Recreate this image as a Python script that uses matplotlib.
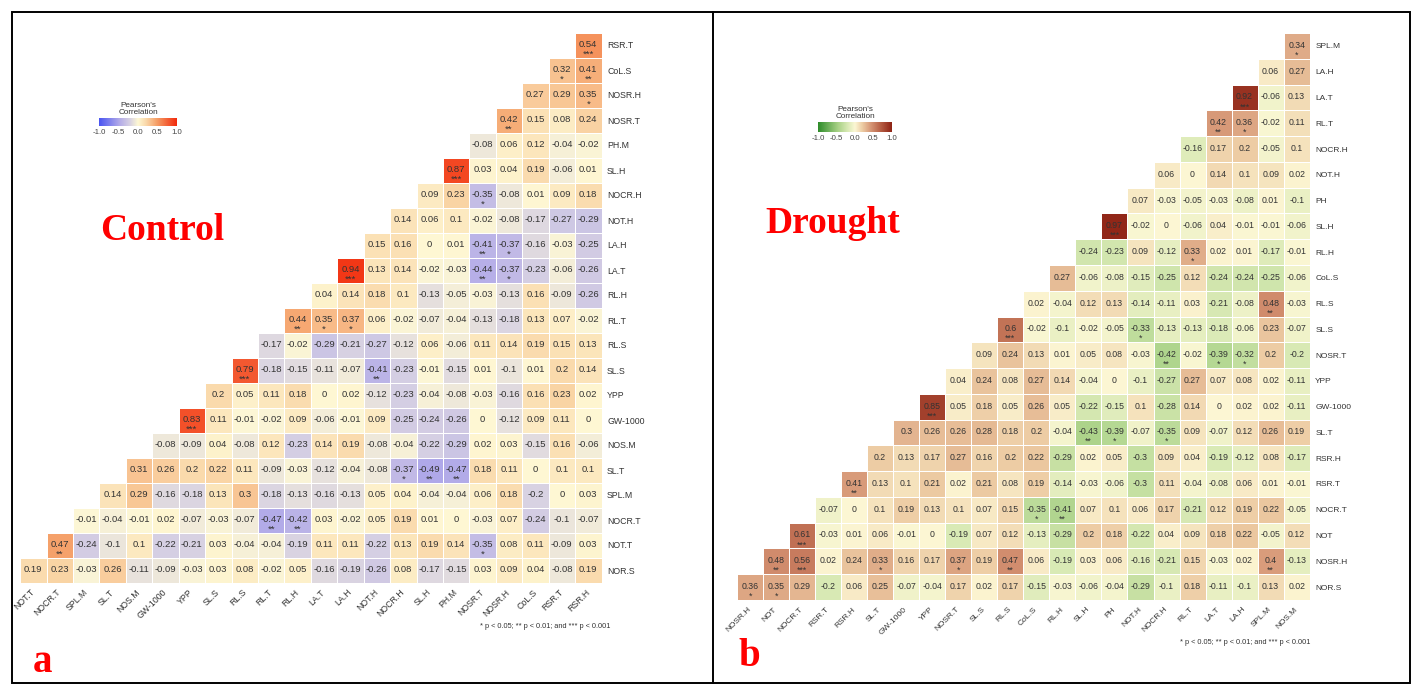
import numpy as np
import matplotlib
matplotlib.use("Agg")
import matplotlib.pyplot as plt
from matplotlib.colors import LinearSegmentedColormap
from matplotlib.patches import Rectangle
from matplotlib.lines import Line2D

W, H, DPI = 1413, 685, 100

# ---------------- Control panel data ----------------
ctrl_cols = ["NOT.T", "NOCR.T", "SPL.M", "SL.T", "NOS.M", "GW-1000", "YPP", "SL.S",
             "RL.S", "RL.T", "RL.H", "LA.T", "LA.H", "NOT.H", "NOCR.H", "SL.H",
             "PH.M", "NOSR.T", "NOSR.H", "CoL.S", "RSR.T", "RSR.H"]
# row labels from bottom to top
ctrl_rows = ["NOR.S", "NOT.T", "NOCR.T", "SPL.M", "SL.T", "NOS.M", "GW-1000", "YPP",
             "SL.S", "RL.S", "RL.T", "RL.H", "LA.T", "LA.H", "NOT.H", "NOCR.H",
             "SL.H", "PH.M", "NOSR.T", "NOSR.H", "CoL.S", "RSR.T"]
ctrl_values = [
    [0.19, 0.23, -0.03, 0.26, -0.11, -0.09, -0.03, 0.03, 0.08, -0.02, 0.05, -0.16, -0.19, -0.26, 0.08, -0.17, -0.15, 0.03, 0.09, 0.04, -0.08, 0.19],
    [0.47, -0.24, -0.1, 0.1, -0.22, -0.21, 0.03, -0.04, -0.04, -0.19, 0.11, 0.11, -0.22, 0.13, 0.19, 0.14, -0.35, 0.08, 0.11, -0.09, 0.03],
    [-0.01, -0.04, -0.01, 0.02, -0.07, -0.03, -0.07, -0.47, -0.42, 0.03, -0.02, 0.05, 0.19, 0.01, 0, -0.03, 0.07, -0.24, -0.1, -0.07],
    [0.14, 0.29, -0.16, -0.18, 0.13, 0.3, -0.18, -0.13, -0.16, -0.13, 0.05, 0.04, -0.04, -0.04, 0.06, 0.18, -0.2, 0, 0.03],
    [0.31, 0.26, 0.2, 0.22, 0.11, -0.09, -0.03, -0.12, -0.04, -0.08, -0.37, -0.49, -0.47, 0.18, 0.11, 0, 0.1, 0.1],
    [-0.08, -0.09, 0.04, -0.08, 0.12, -0.23, 0.14, 0.19, -0.08, -0.04, -0.22, -0.29, 0.02, 0.03, -0.15, 0.16, -0.06],
    [0.83, 0.11, -0.01, -0.02, 0.09, -0.06, -0.01, 0.09, -0.25, -0.24, -0.26, 0, -0.12, 0.09, 0.11, 0],
    [0.2, 0.05, 0.11, 0.18, 0, 0.02, -0.12, -0.23, -0.04, -0.08, -0.03, -0.16, 0.16, 0.23, 0.02],
    [0.79, -0.18, -0.15, -0.11, -0.07, -0.41, -0.23, -0.01, -0.15, 0.01, -0.1, 0.01, 0.2, 0.14],
    [-0.17, -0.02, -0.29, -0.21, -0.27, -0.12, 0.06, -0.06, 0.11, 0.14, 0.19, 0.15, 0.13],
    [0.44, 0.35, 0.37, 0.06, -0.02, -0.07, -0.04, -0.13, -0.18, 0.13, 0.07, -0.02],
    [0.04, 0.14, 0.18, 0.1, -0.13, -0.05, -0.03, -0.13, 0.16, -0.09, -0.26],
    [0.94, 0.13, 0.14, -0.02, -0.03, -0.44, -0.37, -0.23, -0.06, -0.26],
    [0.15, 0.16, 0, 0.01, -0.41, -0.37, -0.16, -0.03, -0.25],
    [0.14, 0.06, 0.1, -0.02, -0.08, -0.17, -0.27, -0.29],
    [0.09, 0.23, -0.35, -0.08, 0.01, 0.09, 0.18],
    [0.87, 0.03, 0.04, 0.19, -0.06, 0.01],
    [-0.08, 0.06, 0.12, -0.04, -0.02],
    [0.42, 0.15, 0.08, 0.24],
    [0.27, 0.29, 0.35],
    [0.32, 0.41],
    [0.54],
]
ctrl_stars = {
    ("RSR.T", "RSR.H"): "***",
    ("CoL.S", "RSR.T"): "*", ("CoL.S", "RSR.H"): "**",
    ("NOSR.H", "RSR.H"): "*",
    ("NOSR.T", "NOSR.H"): "**",
    ("SL.H", "PH.M"): "***",
    ("NOCR.H", "NOSR.T"): "*",
    ("LA.H", "NOSR.T"): "**", ("LA.H", "NOSR.H"): "*",
    ("LA.T", "LA.H"): "***", ("LA.T", "NOSR.T"): "**", ("LA.T", "NOSR.H"): "*",
    ("RL.T", "RL.H"): "**", ("RL.T", "LA.T"): "*", ("RL.T", "LA.H"): "*",
    ("SL.S", "RL.S"): "***", ("SL.S", "NOT.H"): "**",
    ("GW-1000", "YPP"): "***",
    ("SL.T", "NOCR.H"): "*", ("SL.T", "SL.H"): "**", ("SL.T", "PH.M"): "**",
    ("NOCR.T", "RL.T"): "**", ("NOCR.T", "RL.H"): "**",
    ("NOT.T", "NOCR.T"): "**", ("NOT.T", "NOSR.T"): "*",
}

# ---------------- Drought panel data ----------------
drt_cols = ["NOSR.H", "NOT", "NOCR.T", "RSR.T", "RSR.H", "SL.T", "GW-1000", "YPP",
            "NOSR.T", "SL.S", "RL.S", "CoL.S", "RL.H", "SL.H", "PH", "NOT.H",
            "NOCR.H", "RL.T", "LA.T", "LA.H", "SPL.M", "NOS.M"]
drt_rows = ["NOR.S", "NOSR.H", "NOT", "NOCR.T", "RSR.T", "RSR.H", "SL.T", "GW-1000",
            "YPP", "NOSR.T", "SL.S", "RL.S", "CoL.S", "RL.H", "SL.H", "PH",
            "NOT.H", "NOCR.H", "RL.T", "LA.T", "LA.H", "SPL.M"]
drt_values = [
    [0.36, 0.35, 0.29, -0.2, 0.06, 0.25, -0.07, -0.04, 0.17, 0.02, 0.17, -0.15, -0.03, -0.06, -0.04, -0.29, -0.1, 0.18, -0.11, -0.1, 0.13, 0.02],
    [0.48, 0.56, 0.02, 0.24, 0.33, 0.16, 0.17, 0.37, 0.19, 0.47, 0.06, -0.19, 0.03, 0.06, -0.16, -0.21, 0.15, -0.03, 0.02, 0.4, -0.13],
    [0.61, -0.03, 0.01, 0.06, -0.01, 0, -0.19, 0.07, 0.12, -0.13, -0.29, 0.2, 0.18, -0.22, 0.04, 0.09, 0.18, 0.22, -0.05, 0.12],
    [-0.07, 0, 0.1, 0.19, 0.13, 0.1, 0.07, 0.15, -0.35, -0.41, 0.07, 0.1, 0.06, 0.17, -0.21, 0.12, 0.19, 0.22, -0.05],
    [0.41, 0.13, 0.1, 0.21, 0.02, 0.21, 0.08, 0.19, -0.14, -0.03, -0.06, -0.3, 0.11, -0.04, -0.08, 0.06, 0.01, -0.01],
    [0.2, 0.13, 0.17, 0.27, 0.16, 0.2, 0.22, -0.29, 0.02, 0.05, -0.3, 0.09, 0.04, -0.19, -0.12, 0.08, -0.17],
    [0.3, 0.26, 0.26, 0.28, 0.18, 0.2, -0.04, -0.43, -0.39, -0.07, -0.35, 0.09, -0.07, 0.12, 0.26, 0.19],
    [0.85, 0.05, 0.18, 0.05, 0.26, 0.05, -0.22, -0.15, 0.1, -0.28, 0.14, 0, 0.02, 0.02, -0.11],
    [0.04, 0.24, 0.08, 0.27, 0.14, -0.04, 0, -0.1, -0.27, 0.27, 0.07, 0.08, 0.02, -0.11],
    [0.09, 0.24, 0.13, 0.01, 0.05, 0.08, -0.03, -0.42, -0.02, -0.39, -0.32, 0.2, -0.2],
    [0.6, -0.02, -0.1, -0.02, -0.05, -0.33, -0.13, -0.13, -0.18, -0.06, 0.23, -0.07],
    [0.02, -0.04, 0.12, 0.13, -0.14, -0.11, 0.03, -0.21, -0.08, 0.48, -0.03],
    [0.27, -0.06, -0.08, -0.15, -0.25, 0.12, -0.24, -0.24, -0.25, -0.06],
    [-0.24, -0.23, 0.09, -0.12, 0.33, 0.02, 0.01, -0.17, -0.01],
    [0.97, -0.02, 0, -0.06, 0.04, -0.01, -0.01, -0.06],
    [0.07, -0.03, -0.05, -0.03, -0.08, 0.01, -0.1],
    [0.06, 0, 0.14, 0.1, 0.09, 0.02],
    [-0.16, 0.17, 0.2, -0.05, 0.1],
    [0.42, 0.36, -0.02, 0.11],
    [0.92, -0.06, 0.13],
    [0.06, 0.27],
    [0.34],
]
drt_stars = {
    ("SPL.M", "NOS.M"): "*",
    ("LA.T", "LA.H"): "***",
    ("RL.T", "LA.T"): "**", ("RL.T", "LA.H"): "*",
    ("SL.H", "PH"): "***",
    ("RL.H", "RL.T"): "*",
    ("RL.S", "SPL.M"): "**",
    ("SL.S", "RL.S"): "***", ("SL.S", "NOT.H"): "*",
    ("NOSR.T", "NOCR.H"): "**", ("NOSR.T", "LA.T"): "*", ("NOSR.T", "LA.H"): "*",
    ("GW-1000", "YPP"): "***",
    ("SL.T", "SL.H"): "**", ("SL.T", "PH"): "*", ("SL.T", "NOCR.H"): "*",
    ("RSR.T", "RSR.H"): "**",
    ("NOCR.T", "CoL.S"): "*", ("NOCR.T", "RL.H"): "**",
    ("NOT", "NOCR.T"): "***",
    ("NOSR.H", "NOT"): "**", ("NOSR.H", "NOCR.T"): "***", ("NOSR.H", "SL.T"): "*",
    ("NOSR.H", "NOSR.T"): "*", ("NOSR.H", "RL.S"): "**", ("NOSR.H", "SPL.M"): "**",
    ("NOR.S", "NOSR.H"): "*", ("NOR.S", "NOT"): "*",
}

cmap_ctrl = LinearSegmentedColormap.from_list("ctrl", [
    (0.0, "#4A55F2"), (0.27, "#B5ADE8"), (0.4, "#D8D2E2"), (0.5, "#FEF8D4"),
    (0.6, "#FADAAC"), (0.75, "#F59C64"), (1.0, "#F22A0C")])
cmap_drt = LinearSegmentedColormap.from_list("drt", [
    (0.0, "#2E8C2A"), (0.27, "#A8D186"), (0.4, "#D8E9B4"), (0.5, "#FCF7D4"),
    (0.6, "#EDCCA4"), (0.72, "#D59474"), (0.85, "#B65E44"), (1.0, "#8E2214")])

FONT = "Liberation Sans"
TXT = "#333333"


def px_axes(fig, x0, y0, x1, y1):
    return fig.add_axes([x0 / W, 1 - y1 / H, (x1 - x0) / W, (y1 - y0) / H])


def draw_panel(ax, cols, rows, values, stars, cmap, fs_num, fs_lab):
    n = len(cols)
    M = np.full((n, n), np.nan)
    for k, row in enumerate(values):
        M[k, k:k + len(row)] = row
    Mm = np.ma.masked_invalid(M)
    edges = np.arange(n + 1) - 0.5
    ax.pcolormesh(edges, edges, Mm, cmap=cmap, vmin=-1, vmax=1,
                  edgecolors="white", linewidth=0.6)
    for k, row in enumerate(values):
        for i, v in enumerate(row):
            j = k + i
            ax.text(j, k + 0.02, f"{v:g}", ha="center", va="center",
                    fontsize=fs_num, color=TXT, family=FONT, zorder=5)
            s = stars.get((rows[k], cols[j]))
            if s:
                ax.text(j, k - 0.36, s, ha="center", va="center",
                        fontsize=fs_num, color=TXT, family=FONT, zorder=5)
    ax.set_xlim(-0.5, n - 0.5)
    ax.set_ylim(-0.5, n - 0.5)
    for sp in ax.spines.values():
        sp.set_visible(False)
    ax.set_xticks(range(n))
    ax.set_xticklabels(cols, rotation=45, ha="right", va="center",
                       rotation_mode="anchor", fontsize=fs_lab,
                       family=FONT, color=TXT)
    ax.yaxis.tick_right()
    ax.set_yticks(range(n))
    ax.set_yticklabels(rows, fontsize=fs_lab, family=FONT, color=TXT)
    ax.tick_params(length=0, pad=4)
    ax.tick_params(axis="x", pad=6)


def draw_cbar(fig, x0, y0, x1, y1, cmap, fs):
    cax = px_axes(fig, x0, y0, x1, y1)
    grad = np.linspace(-1, 1, 256)[None, :]
    cax.imshow(grad, cmap=cmap, vmin=-1, vmax=1, aspect="auto",
               extent=(-1, 1, 0, 1))
    cax.set_yticks([])
    cax.set_xticks([-1, -0.5, 0, 0.5, 1])
    cax.set_xticklabels(["-1.0", "-0.5", "0.0", "0.5", "1.0"],
                        fontsize=fs, family=FONT, color="#444444")
    cax.tick_params(length=0, pad=2)
    for sp in cax.spines.values():
        sp.set_visible(False)
    cax.set_title("Pearson's\nCorrelation", fontsize=fs + 0.3, family=FONT,
                  color="#333333", pad=3, linespacing=0.95)


fig = plt.figure(figsize=(W / DPI, H / DPI), dpi=DPI)
fig.patch.set_facecolor("white")

# Control heatmap
ax1 = px_axes(fig, 20.1, 32.5, 601.5, 582.5)
draw_panel(ax1, ctrl_cols, ctrl_rows, ctrl_values, ctrl_stars, cmap_ctrl, 6.8, 6.3)

# Drought heatmap
ax2 = px_axes(fig, 737.0, 33.1, 1309.7, 599.9)
draw_panel(ax2, drt_cols, drt_rows, drt_values, drt_stars, cmap_drt, 6.3, 6.0)

# colorbars
draw_cbar(fig, 99, 118, 177, 126, cmap_ctrl, 5.6)
draw_cbar(fig, 818, 122, 892, 132, cmap_drt, 5.6)

# footnotes
fig.text(610 / W, 1 - 627 / H, "* p < 0.05; ** p < 0.01; and *** p < 0.001",
         ha="right", va="center", fontsize=5.3, family=FONT, color="#333333")
fig.text(1310 / W, 1 - 643 / H, "* p < 0.05; ** p < 0.01; and *** p < 0.001",
         ha="right", va="center", fontsize=5.3, family=FONT, color="#333333")

# panel titles and letters
red = "#FF0000"
fig.text(100 / W, 1 - 231 / H, "Control", ha="left", va="center", fontsize=27,
         fontweight="bold", family="Liberation Serif", color=red)
fig.text(765 / W, 1 - 223 / H, "Drought", ha="left", va="center", fontsize=27,
         fontweight="bold", family="Liberation Serif", color=red)
fig.text(33 / W, 1 - 662 / H, "a", ha="left", va="center", fontsize=28,
         fontweight="bold", family="Liberation Serif", color=red)
fig.text(738 / W, 1 - 657 / H, "b", ha="left", va="center", fontsize=28,
         fontweight="bold", family="Liberation Serif", color=red)


def fx(x):
    return x / W


def fy(y):
    return 1 - y / H


fig.add_artist(Rectangle((fx(12), fy(683)), fx(1410) - fx(12), fy(12) - fy(683),
                         transform=fig.transFigure, fill=False, ec="black", lw=1.4))
fig.add_artist(Line2D([fx(713), fx(713)], [fy(683), fy(12)],
                      transform=fig.transFigure, color="black", lw=1.4))

fig.savefig("out.png", dpi=DPI, facecolor="white")
